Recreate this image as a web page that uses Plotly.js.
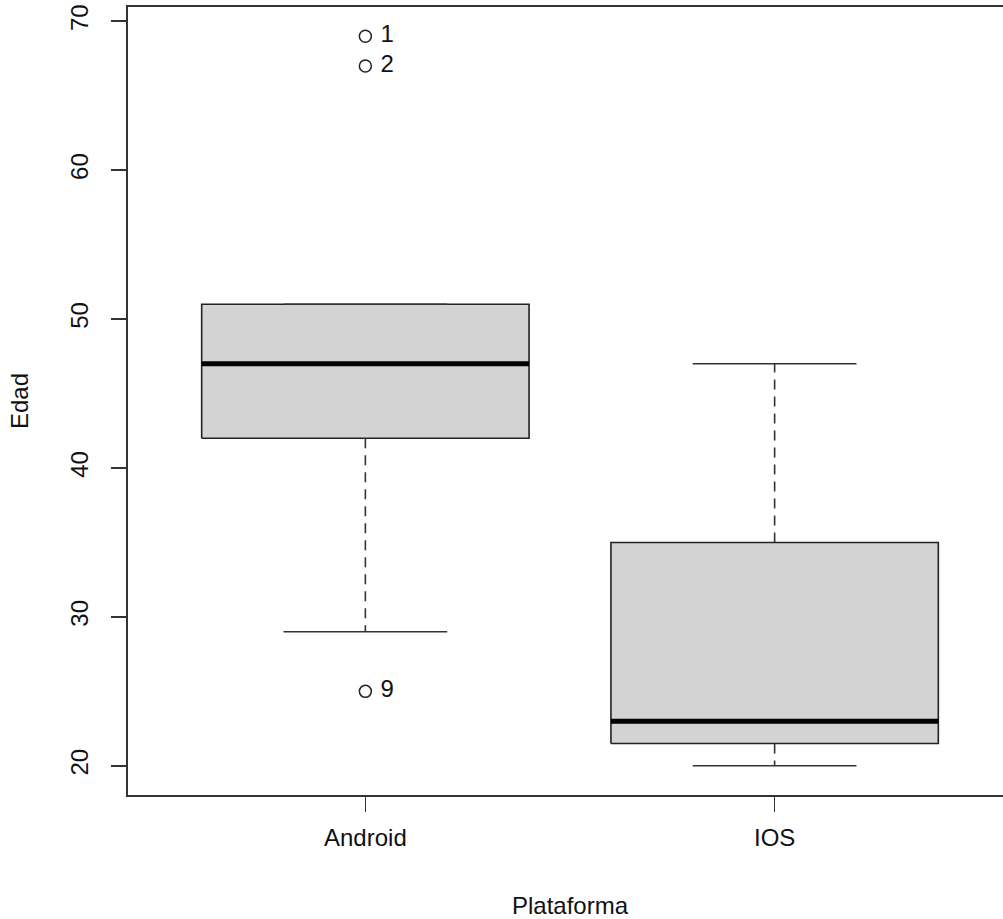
<!DOCTYPE html>
<html>
<head>
<meta charset="utf-8">
<script src="https://cdn.plot.ly/plotly-3.0.1.min.js"></script>
<style>
html,body{margin:0;padding:0;overflow:hidden;background:#fff;width:1003px;height:919px;}
#chart{width:1030px;height:919px;}
</style>
</head>
<body>
<div id="chart"></div>
<script>
const categories = ['Android', 'IOS'];
const q1 = [42, 21.5];
const median = [47, 23];
const q3 = [51, 35];
const lowerWhisker = [29, 20];
const upperWhisker = [51, 47];
const outlierGroup = [0, 0, 0];
const outlierValues = [69, 67, 25];
const outlierLabels = ['1', '2', '9'];
const yTicks = [20, 30, 40, 50, 60, 70];

const boxHalf = 0.4, capHalf = 0.2;
const traces = [];
categories.forEach((c, i) => {
  const x = i + 1;
  traces.push({
    type: 'scatter', mode: 'lines',
    x: [x - boxHalf, x + boxHalf, x + boxHalf, x - boxHalf, x - boxHalf],
    y: [q1[i], q1[i], q3[i], q3[i], q1[i]],
    fill: 'toself', fillcolor: '#d3d3d3',
    line: {color: '#222', width: 1.6}, hoverinfo: 'skip', showlegend: false
  });
  traces.push({
    type: 'scatter', mode: 'lines',
    x: [x - boxHalf, x + boxHalf], y: [median[i], median[i]],
    line: {color: '#000', width: 5}, hoverinfo: 'skip', showlegend: false
  });
  traces.push({
    type: 'scatter', mode: 'lines',
    x: [x, x, null, x, x],
    y: [q1[i], lowerWhisker[i], null, q3[i], upperWhisker[i]],
    line: {color: '#333', width: 1.6, dash: '10px,7px'}, hoverinfo: 'skip', showlegend: false
  });
  traces.push({
    type: 'scatter', mode: 'lines',
    x: [x - capHalf, x + capHalf, null, x - capHalf, x + capHalf],
    y: [lowerWhisker[i], lowerWhisker[i], null, upperWhisker[i], upperWhisker[i]],
    line: {color: '#333', width: 1.6}, hoverinfo: 'skip', showlegend: false
  });
});
traces.push({
  type: 'scatter', mode: 'markers+text',
  x: outlierGroup.map(g => g + 1), y: outlierValues,
  text: outlierLabels.map(t => ' ' + t), textposition: 'middle right',
  textfont: {family: 'Liberation Sans, Arial, sans-serif', size: 24, color: '#111'},
  marker: {symbol: 'circle-open', size: 12, color: '#222', line: {width: 1.5}},
  showlegend: false, hoverinfo: 'skip'
});

const fontFam = 'Liberation Sans, Arial, Helvetica, sans-serif';
const layout = {
  width: 1030, height: 919,
  margin: {l: 128, r: 18, t: 7, b: 124},
  paper_bgcolor: '#fff', plot_bgcolor: '#fff',
  font: {family: fontFam, size: 24, color: '#111'},
  xaxis: {
    range: [0.42, 2.58], tickvals: [1, 2], ticktext: categories,
    showgrid: false, zeroline: false,
    showline: true, mirror: true, linecolor: '#333', linewidth: 1.6,
    ticks: 'outside', ticklen: 15, tickwidth: 1.6, tickcolor: '#333',
    tickfont: {family: fontFam, size: 24, color: '#111'},
    ticklabelstandoff: 6,
    title: {text: 'Plataforma', font: {family: fontFam, size: 24, color: '#111'}, standoff: 48}
  },
  yaxis: {
    range: [18.04, 70.96], tickvals: yTicks, ticktext: yTicks.map(String),
    showgrid: false, zeroline: false,
    showline: true, mirror: true, linecolor: '#333', linewidth: 1.6,
    ticks: 'outside', ticklen: 15, tickwidth: 1.6, tickcolor: '#333',
    tickangle: -90,
    tickfont: {family: fontFam, size: 24, color: '#111'},
    ticklabelstandoff: 14,
    title: {text: 'Edad', font: {family: fontFam, size: 24, color: '#111'}, standoff: 30}
  }
};
Plotly.newPlot('chart', traces, layout, {displayModeBar: false, staticPlot: true});
</script>
</body>
</html>
